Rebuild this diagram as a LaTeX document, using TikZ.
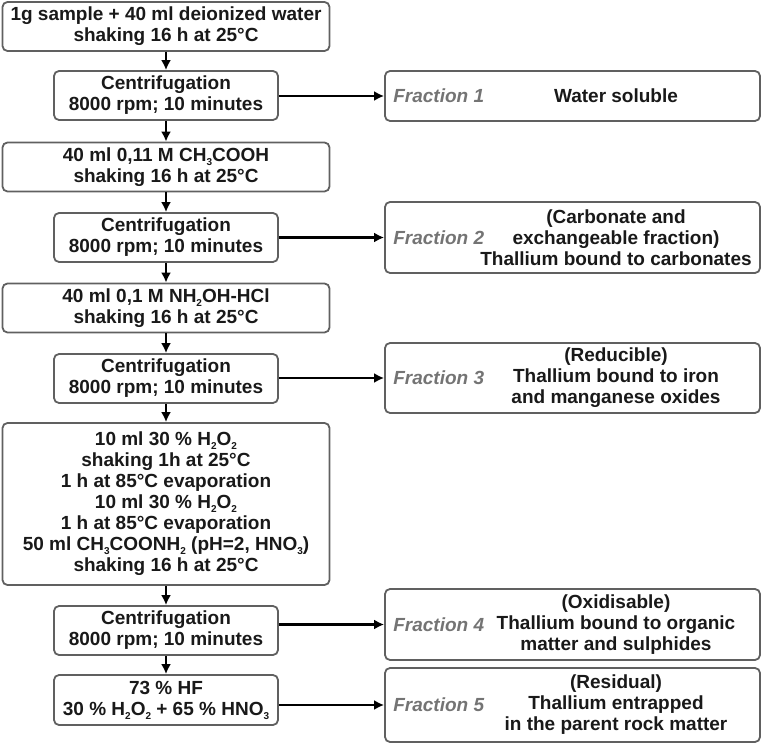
\documentclass[tikz,border=0pt]{standalone}
\usepackage{fontspec}
\setmainfont{Liberation Sans}
\usetikzlibrary{positioning, arrows.meta}
\definecolor{boxline}{HTML}{606060}
\definecolor{fracgray}{HTML}{747474}
\newcommand{\lo}[1]{\raisebox{-0.4ex}{\fontsize{10}{10}\selectfont #1}}
\tikzset{ every node/.style={font=\fontsize{19}{21}\selectfont\bfseries, text=black!90, align=center, inner sep=0pt},
  stepbox/.style={draw=boxline, line width=1.8pt, rounded corners=5pt, minimum width=327pt, minimum height=49pt},
  centbox/.style={stepbox, minimum width=224pt},
  fracbox/.style={stepbox, minimum width=375pt},
  fraclabel/.style={text=fracgray, font=\fontsize{19}{21}\selectfont\bfseries\itshape},
  flow/.style={line width=2.2pt, -{Latex[length=10pt,width=10pt]}}}

\begin{document}
\begin{tikzpicture}[x=1pt,y=-1pt]
  \useasboundingbox (0,0) rectangle (761,743);
  % left column
  \node[stepbox] (s1) at (166,26.5) {1g sample + 40 ml deionized water\\shaking 16 h at 25°C};
  \node[stepbox] (s2) at (166,167) {40 ml 0,11 M CH\lo{3}COOH\\shaking 16 h at 25°C};
  \node[stepbox] (s3) at (166,308) {40 ml 0,1 M NH\lo{2}OH-HCl\\shaking 16 h at 25°C};
  \node[stepbox, minimum height=162pt] (s4) at (166,504) {10 ml 30 \% H\lo{2}O\lo{2}\\shaking 1h at 25°C\\1 h at 85°C evaporation\\10 ml 30 \% H\lo{2}O\lo{2}\\1 h at 85°C evaporation\\50 ml CH\lo{3}COONH\lo{2} (pH=2, HNO\lo{3})\\shaking 16 h at 25°C};
  \node[centbox, minimum height=50pt] (s5) at (166,700) {73 \% HF\\30 \% H\lo{2}O\lo{2} + 65 \% HNO\lo{3}};
  \foreach \pos/\name in {{(166,95.5)/c1}, {(166,237.5)/c2}, {(166,378.5)/c3}, {(166,630.5)/c4}}
    \node[centbox] (\name) at \pos {Centrifugation\\8000 rpm; 10 minutes};

  % fractions
  \foreach \pos/\name/\ht in {{(572.5,96)/f1/50}, {(572.5,237.5)/f2/71}, {(572.5,378)/f3/70}, {(572.5,624.5)/f4/71}, {(572.5,705)/f5/74}}
    \node[fracbox, minimum height=\ht pt] (\name) at \pos {};
  \foreach \n in {1,...,5}
    \node[fraclabel, right=9pt of f\n.west] (l\n) {Fraction \n};
  \node (d1) at (616,0 |- f1) {Water soluble};
  \node (d2) at (616,0 |- f2) {(Carbonate and\\exchangeable fraction)\\Thallium bound to carbonates};
  \node (d3) at (616,0 |- f3) {(Reducible)\\Thallium bound to iron\\and manganese oxides};
  \node (d4) at (616,0 |- f4) {(Oxidisable)\\Thallium bound to organic\\matter and sulphides};
  \node (d5) at (616,0 |- f5) {(Residual)\\Thallium entrapped\\in the parent rock matter};

  \foreach \from/\to in {s1/c1, c1/s2, s2/c2, c2/s3, s3/c3, c3/s4, s4/c4, c4/s5}
    \draw[flow] (\from) -- (\to);
  \foreach \from/\to in {c1/f1, c2/f2, c3/f3, c4/f4, s5/f5}
    \draw[flow] (\from.east |- \to) -- (\to.west);
\end{tikzpicture}
\end{document}
